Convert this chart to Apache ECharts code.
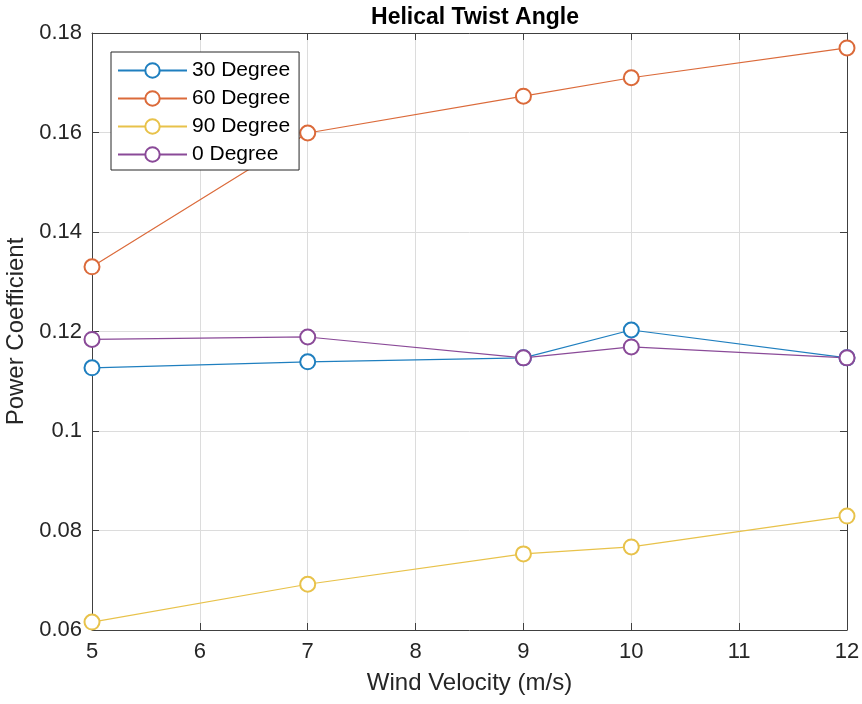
<!DOCTYPE html>
<html><head><meta charset="utf-8">
<script src="https://cdn.jsdelivr.net/npm/echarts@6/dist/echarts.min.js"></script>
<style>html,body{margin:0;padding:0;background:#fff}#c{width:862px;height:704px}</style>
</head><body><div id="c"></div>
<script>
const windVelocity = [5, 7, 9, 10, 12];
const deg30 = [0.1127, 0.1139, 0.1147, 0.1203, 0.1147];
const deg60 = [0.1330, 0.1599, 0.1673, 0.1710, 0.1770];
const deg90 = [0.0616, 0.0692, 0.0753, 0.0767, 0.0829];
const deg0  = [0.1184, 0.1189, 0.1147, 0.1169, 0.1147];
const seriesNames = ['30 Degree', '60 Degree', '90 Degree', '0 Degree'];
const seriesValues = [deg30, deg60, deg90, deg0];
const colors = ['#1f7fbf', '#db6a3a', '#e8c24a', '#8a4a98'];

const chart = echarts.init(document.getElementById('c'));
const font = 'Liberation Sans, Arial, sans-serif';
const axisCommon = {
  axisLine: {show: true, onZero: false, lineStyle: {color: '#404040', width: 1}},
  axisTick: {show: true, inside: true, length: 7, lineStyle: {color: '#404040'}},
};
chart.setOption({
  animation: false,
  title: {text: 'Helical Twist Angle', left: 470, top: 1, textAlign: 'center',
    textStyle: {fontFamily: font, fontSize: 23, fontWeight: 'bold', color: '#000'}},
  grid: {left: 92, right: 15, top: 33, bottom: 74, containLabel: false, outerBoundsMode: 'none'},
  legend: {
    orient: 'vertical', left: 111, top: 52,
    data: seriesNames,
    itemWidth: 69, itemHeight: 18, itemGap: 7,
    padding: [8, 9, 5, 6],
    borderColor: '#262626', borderWidth: 1, backgroundColor: '#fff',
    textStyle: {fontFamily: font, fontSize: 21, color: '#000'}
  },
  xAxis: [
    Object.assign({type: 'value', min: 5, max: 12, interval: 1,
      name: 'Wind Velocity (m/s)', nameLocation: 'middle', nameGap: 41,
      nameTextStyle: {fontFamily: font, fontSize: 24, color: '#262626'},
      axisLabel: {fontFamily: font, fontSize: 22, color: '#262626', margin: 11},
      splitLine: {show: true, lineStyle: {color: '#dcdcdc'}}}, axisCommon),
    Object.assign({type: 'value', min: 5, max: 12, interval: 1, position: 'top',
      axisLabel: {show: false}, splitLine: {show: false}}, axisCommon)
  ],
  yAxis: [
    Object.assign({type: 'value', min: 0.06, max: 0.18, interval: 0.02,
      name: 'Power Coefficient', nameLocation: 'middle', nameGap: 64,
      nameTextStyle: {fontFamily: font, fontSize: 24, color: '#262626'},
      axisLabel: {fontFamily: font, fontSize: 22, color: '#262626', margin: 10,
        formatter: v => String(parseFloat(v.toFixed(2)))},
      splitLine: {show: true, lineStyle: {color: '#dcdcdc'}}}, axisCommon),
    Object.assign({type: 'value', min: 0.06, max: 0.18, interval: 0.02, position: 'right',
      axisLabel: {show: false}, splitLine: {show: false}}, axisCommon)
  ],
  series: seriesNames.map((n, i) => ({
    name: n, type: 'line', xAxisIndex: 0, yAxisIndex: 0,
    data: windVelocity.map((x, j) => [x, seriesValues[i][j]]),
    symbol: 'emptyCircle', symbolSize: 15,
    itemStyle: {color: colors[i], borderWidth: 1},
    lineStyle: {color: colors[i], width: 1.2},
    clip: false
  }))
});
</script></body></html>
